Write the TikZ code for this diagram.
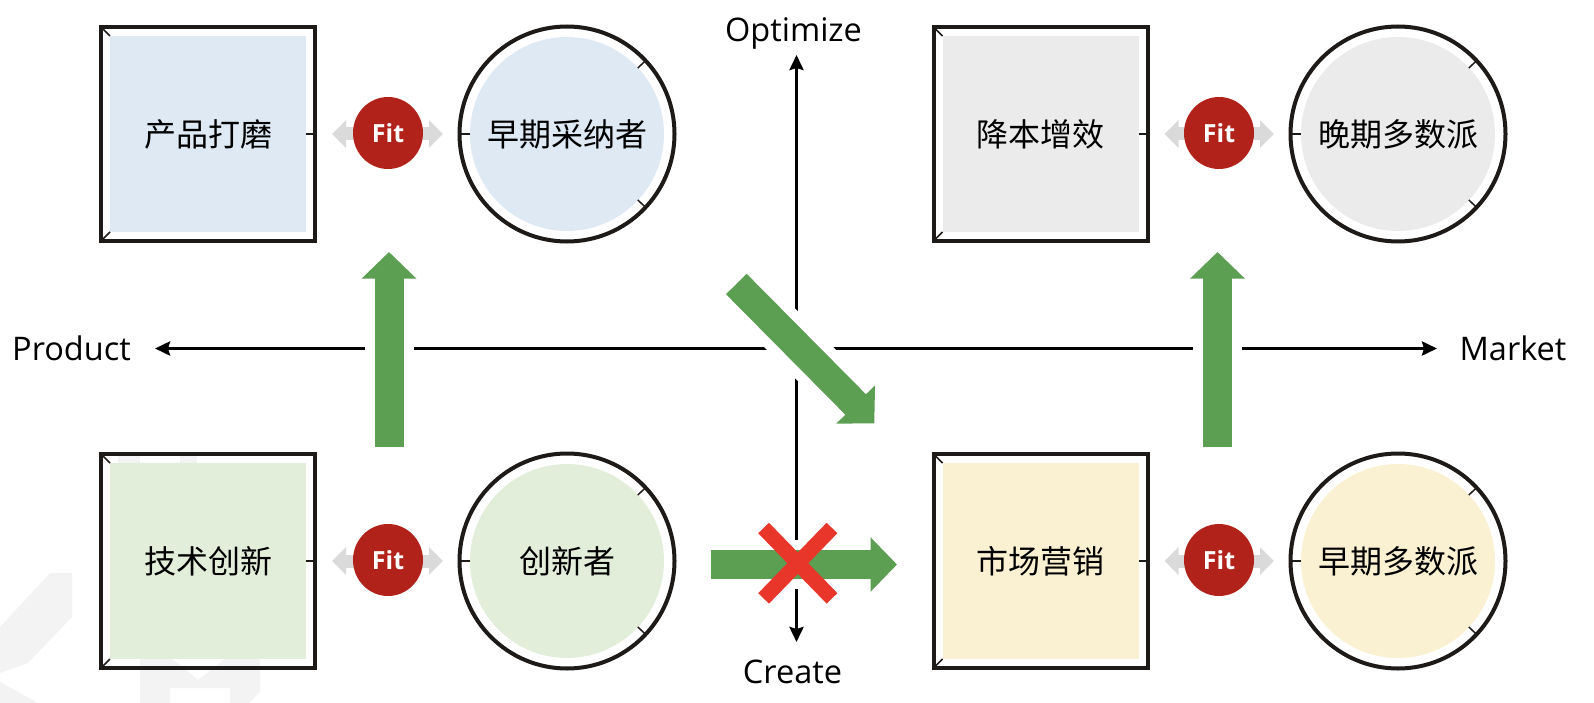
\documentclass[tikz,border=0pt]{standalone}
\usepackage{fontspec}
\setmainfont{Open Sans}
\newfontfamily\cjk{Noto Sans CJK SC}
\usetikzlibrary{arrows.meta,calc,shapes.geometric}
\definecolor{bordercol}{HTML}{1E1A18}
\definecolor{fillblue}{HTML}{DFE9F4}
\definecolor{fillgray}{HTML}{EBEBEB}
\definecolor{fillgreen}{HTML}{E2EEDA}
\definecolor{fillyellow}{HTML}{FAF0D2}
\definecolor{fitred}{HTML}{B1231A}
\definecolor{fitgray}{HTML}{DADADA}
\definecolor{arrowgreen}{HTML}{5C9E52}
\definecolor{crossred}{HTML}{E8372A}
\definecolor{wmark}{HTML}{F3F3F3}
\tikzset{
  sqnode/.style={draw=bordercol, line width=4pt, minimum size=214pt, inner sep=0pt, outer sep=0pt,
    font=\fontsize{32}{38}\selectfont\cjk},
  cinode/.style={circle, draw=bordercol, line width=4pt, minimum size=215pt, inner sep=0pt, outer sep=0pt,
    font=\fontsize{32}{38}\selectfont\cjk},
  tickline/.style={draw=bordercol, line width=1.5pt},
  fitnode/.style={ellipse, fill=fitred, minimum width=70pt, minimum height=72pt, inner sep=0pt,
    text=white, font=\fontsize{25}{28}\selectfont\bfseries},
  fitarrow/.style={draw=fitgray, line width=13pt, {Triangle[length=14pt,width=27pt]}-{Triangle[length=14pt,width=27pt]}},
  axisline/.style={draw=black, line width=3.2pt, {Stealth[length=15pt,width=14pt,inset=2pt]}-{Stealth[length=15pt,width=14pt,inset=2pt]}},
  axislabel/.style={font=\fontsize{32.5}{38}\selectfont, anchor=base, inner sep=0pt},
  garrow/.style={draw=arrowgreen, line width=29pt, -{Triangle[length=26.5pt,width=53pt]},
    preaction={draw=white, line width=49pt, arrows=-}},
  xmark/.style={draw=crossred, line width=15pt, line cap=butt},
}
\newcommand\SqBox[5]{%
  \fill[#4] (#2-98,#3-98) rectangle (#2+98,#3+98);
  \node[sqnode] (#1) at (#2,#3) {#5};
  \draw[tickline] (#1.north west) -- ++(9,9);
  \draw[tickline] (#1.south west) -- ++(9,-9);
  \draw[tickline] (#1.east) -- ++(-9,0);
}
\newcommand\CiBox[5]{%
  \fill[#4] (#2,#3) circle[radius=97];
  \node[cinode] (#1) at (#2,#3) {#5};
  \draw[tickline] (#1.180) -- ++(10,0);
  \draw[tickline] (#1.43) -- ($(#1)!0.9!(#1.43)$);
  \draw[tickline] (#1.-43) -- ($(#1)!0.9!(#1.-43)$);
}
\begin{document}
\begin{tikzpicture}[x=1pt,y=-1pt]
\useasboundingbox (0,0) rectangle (1594,703);
% watermark
\fill[wmark] (0,627) -- (50,573) -- (72,573) -- (72,617) -- (28,663) -- (0,673) -- cycle;
\fill[wmark] (0,682) -- (38,703) -- (0,703) -- cycle;
\fill[wmark] (118,452) rectangle (140,472);
\fill[wmark] (180,452) rectangle (197,472);
\fill[wmark] (140,655) -- (168,655) -- (198,680) -- (230,655) -- (260,655) -- (260,692) -- (249,703)
  -- (230,703) -- (230,688) -- (170,688) -- (170,703) -- (140,703) -- cycle;

% boxes
\SqBox{polish}{208}{134}{fillblue}{产品打磨}
\CiBox{early}{567}{134}{fillblue}{早期采纳者}
\SqBox{cost}{1040.5}{134}{fillgray}{降本增效}
\CiBox{late}{1398}{134}{fillgray}{晚期多数派}
\SqBox{tech}{208}{561}{fillgreen}{技术创新}
\CiBox{innov}{567}{561}{fillgreen}{创新者}
\SqBox{mkt}{1040.5}{561}{fillyellow}{市场营销}
\CiBox{earlymaj}{1398}{561}{fillyellow}{早期多数派}

% Fit badges
\draw[fitarrow] ($(polish.east)+(17,0)$) -- ($(early.west)+(-16.5,0)$);
\node[fitnode] (fit1) at (388,133) {Fit};
\draw[fitarrow] ($(cost.east)+(17,0)$) -- ($(late.west)+(-16.5,0)$);
\node[fitnode] (fit2) at (1219,133) {Fit};
\draw[fitarrow] ($(tech.east)+(17,0)$) -- ($(innov.west)+(-16.5,0)$);
\node[fitnode] (fit3) at (388,560) {Fit};
\draw[fitarrow] ($(mkt.east)+(17,0)$) -- ($(earlymaj.west)+(-16.5,0)$);
\node[fitnode] (fit4) at (1219,560) {Fit};

% axes
\node[axislabel] (product) at (71.5,360) {Product};
\node[axislabel] (market) at (1513,360) {Market};
\node[axislabel] (optimize) at (793.5,42) {Optimize};
\node[axislabel] (create) at (792.5,683) {Create};
\coordinate (hl) at (155,348.5);
\coordinate (hr) at (1437,348.5);
\coordinate (vt) at (796.5,55);
\coordinate (vb) at (796.5,642);
\draw[axisline] (hl) -- (hr);
\draw[axisline] (vt) -- (vb);

% green arrows
\coordinate (ga1s) at (389,447);
\coordinate (ga1e) at (389,252);
\coordinate (ga2s) at (1217.5,447);
\coordinate (ga2e) at (1217.5,252);
\coordinate (ga3s) at (736.3,284);
\coordinate (ga3e) at (874.3,423.3);
\coordinate (ga4s) at (711,564.5);
\coordinate (ga4e) at (897,564.5);
\draw[garrow] (ga1s) -- (ga1e);
\draw[garrow] (ga2s) -- (ga2e);
\draw[garrow] (ga3s) -- (ga3e);
\draw[garrow] (ga4s) -- (ga4e);

% red cross
\coordinate (xc) at (797.8,563.2);
\draw[xmark] ($(xc)+(-34.2,-35.2)$) -- ($(xc)+(34.2,35.2)$);
\draw[xmark] ($(xc)+(34.2,-35.2)$) -- ($(xc)+(-34.2,35.2)$);
\end{tikzpicture}
\end{document}
